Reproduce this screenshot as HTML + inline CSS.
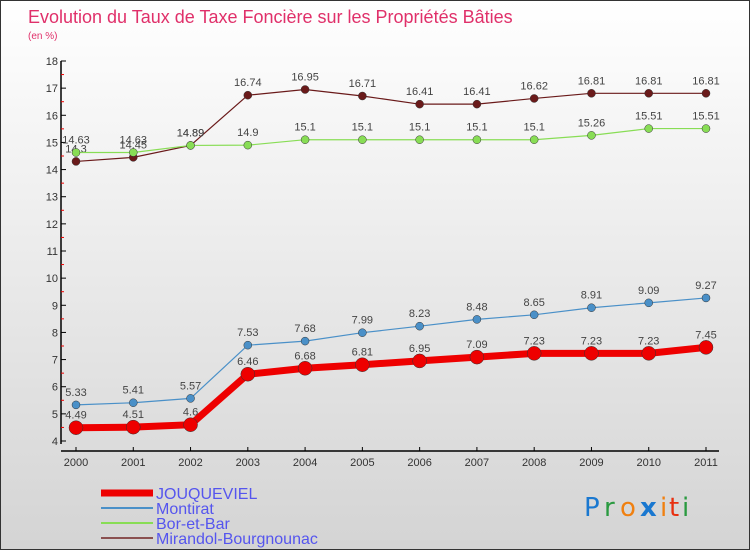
<!DOCTYPE html>
<html><head><meta charset="utf-8"><style>
body{margin:0}
#c{width:750px;height:550px;position:relative;background:linear-gradient(#ffffff,#d4d4d4);box-sizing:border-box;border:1px solid #333;overflow:hidden;font-family:"Liberation Sans",sans-serif}
</style></head><body>
<div id="c">
<svg width="750" height="550" style="position:absolute;left:0;top:0" id="svg" font-family="Liberation Sans, sans-serif">
<text x="27" y="22" font-size="18" fill="#e0306a">Evolution du Taux de Taxe Foncière sur les Propriétés Bâties</text>
<text x="27" y="38" font-size="10" fill="#e0306a">(en %)</text>
<g id="axes"></g><g id="series"></g><g id="legend"></g>
<g font-size="26" font-family="DejaVu Sans,sans-serif">
<text x="583" y="515" fill="#1a78d0">P</text><text x="603" y="515" fill="#2a9a40">r</text><text x="619" y="515" fill="#f08010">o</text><text x="639" y="515" fill="#1a78d0" font-weight="bold">x</text><text x="659" y="515" fill="#f08010">i</text><text x="668" y="515" fill="#e83010">t</text><text x="681" y="515" fill="#2a9a40">i</text>
</g>
</svg>
</div>
<script>
const years=[2000,2001,2002,2003,2004,2005,2006,2007,2008,2009,2010,2011];
const jouq=[4.49,4.51,4.6,6.46,6.68,6.81,6.95,7.09,7.23,7.23,7.23,7.45];
const mont=[5.33,5.41,5.57,7.53,7.68,7.99,8.23,8.48,8.65,8.91,9.09,9.27];
const bor=[14.63,14.63,14.89,14.9,15.1,15.1,15.1,15.1,15.1,15.26,15.51,15.51];
const mira=[14.3,14.45,14.89,16.74,16.95,16.71,16.41,16.41,16.62,16.81,16.81,16.81];
const yTicks=[4,5,6,7,8,9,10,11,12,13,14,15,16,17,18];
const NS="http://www.w3.org/2000/svg";
const X=i=>75+i*(630/11), Y=v=>440-(v-4)*(380/14);
function mk(t,a,p){const e=document.createElementNS(NS,t);for(const k in a)e.setAttribute(k,a[k]);p.appendChild(e);return e;}
const ax=document.getElementById('axes');
let l=mk('line',{x1:60,y1:60,x2:60,y2:443,stroke:'#000','stroke-width':1.5},ax);


l=mk('line',{x1:60,y1:450,x2:718,y2:450,stroke:'#000','stroke-width':1.5},ax);


yTicks.forEach(v=>{
 mk('line',{x1:60,y1:Y(v),x2:65,y2:Y(v),stroke:'#000'},ax);
 if(v<18)mk('line',{x1:60,y1:Y(v+0.5),x2:63,y2:Y(v+0.5),stroke:'#e00'},ax);
 const t=mk('text',{x:57,y:Y(v)+4,'font-size':11,'text-anchor':'end',fill:'#333'},ax);t.textContent=v;
 
 
});
years.forEach((y,i)=>{
 mk('line',{x1:X(i),y1:446,x2:X(i),y2:450,stroke:'#000'},ax);
 const t=mk('text',{x:X(i),y:465,'font-size':11,'text-anchor':'middle',fill:'#333'},ax);t.textContent=y;
 
 
});
const S=document.getElementById('series');
const defs=[[mira,'#6a1a1a',1.2,4,'mirandol-bourgnounac'],[bor,'#88dd55',1.2,4,'bor-et-bar'],[mont,'#4a90c8',1.2,4,'montirat'],[jouq,'#ee0000',7,7,'jouqueviel']];
defs.forEach(([d,c,w,r,n])=>{
 const g=mk('g',{},S);
 
 
 mk('polyline',{points:d.map((v,i)=>X(i)+','+Y(v)).join(' '),fill:'none',stroke:c,'stroke-width':w},g);
 d.forEach((v,i)=>{
  const p=mk('circle',{cx:X(i),cy:Y(v),r:r,fill:c,stroke:'#333','stroke-width':0.5},g);
  
  
  const t=mk('text',{x:X(i),y:Y(v)-9,'font-size':11,'text-anchor':'middle',fill:'#444'},g);t.textContent=String(v);
 });
});
const L=document.getElementById('legend');
[['JOUQUEVIEL','#ee0000',7],['Montirat','#4a90c8',2],['Bor-et-Bar','#88dd55',2],['Mirandol-Bourgnounac','#8a5050',2]].forEach(([n,c,w],i)=>{
 const y=492+i*15;
 const g=mk('g',{},L);
 
 
 mk('line',{x1:100,y1:y,x2:152,y2:y,stroke:c,'stroke-width':w},g);
 const t=mk('text',{x:155,y:y+6,'font-size':16,fill:'#5555ee'},g);t.textContent=n;
});
</script>
</body></html>
